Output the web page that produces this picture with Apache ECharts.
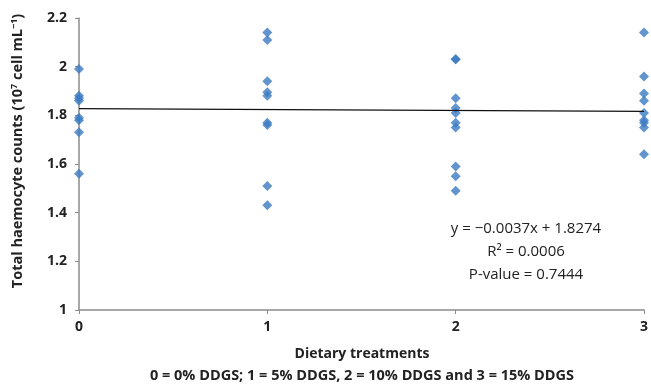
<!DOCTYPE html>
<html><head><meta charset="utf-8">
<script src="https://cdn.jsdelivr.net/npm/echarts@6/dist/echarts.min.js"></script>
<style>html,body{margin:0;padding:0;background:#fff}#c{width:651px;height:389px}</style>
</head><body><div id="c"></div>
<script>
const treatments = [0, 1, 2, 3];
const group0 = [1.99, 1.88, 1.87, 1.86, 1.79, 1.78, 1.73, 1.56];
const group1 = [2.14, 2.11, 1.94, 1.895, 1.88, 1.77, 1.76, 1.51, 1.43];
const group2 = [2.03, 2.03, 1.87, 1.83, 1.81, 1.77, 1.75, 1.59, 1.55, 1.49];
const group3 = [2.14, 1.96, 1.89, 1.86, 1.81, 1.78, 1.77, 1.75, 1.64];
const slope = -0.0037, intercept = 1.8274;
const yTicks = [1, 1.2, 1.4, 1.6, 1.8, 2, 2.2];
const eqLines = ['y = \u22120.0037x + 1.8274', 'R\u00b2 = 0.0006', 'P-value = 0.7444'];

const groups = [group0, group1, group2, group3];
const points = [];
groups.forEach((g, i) => g.forEach(v => points.push([treatments[i], v])));
const trend = [[0, intercept], [3, intercept + slope * 3]];
const font = 'Open Sans, Liberation Sans, sans-serif';

const chart = echarts.init(document.getElementById('c'));
chart.setOption({
  animation: false,
  grid: { left: 79, right: 4, top: 18, bottom: 79 },
  xAxis: {
    type: 'value', min: 0, max: 3, interval: 1,
    axisLine: { lineStyle: { color: '#8c8c8c', width: 1.5 } },
    axisTick: { show: true, length: 4, lineStyle: { color: '#8c8c8c' } },
    axisLabel: { color: '#222', fontWeight: 'bold', fontSize: 14, fontFamily: font, margin: 10 },
    splitLine: { show: false }
  },
  yAxis: {
    type: 'value', min: 1, max: 2.2, interval: 0.2,
    axisLine: { show: true, lineStyle: { color: '#8c8c8c', width: 1.5 } },
    axisTick: { show: true, length: 4, lineStyle: { color: '#8c8c8c' } },
    axisLabel: { color: '#222', fontWeight: 'bold', fontSize: 14, fontFamily: font, margin: 12,
      formatter: v => { const t = yTicks.find(x => Math.abs(x - v) < 1e-6); return t === undefined ? '' : String(t); } },
    splitLine: { show: false }
  },
  series: [
    { type: 'scatter', data: points, symbol: 'diamond', symbolSize: 10,
      itemStyle: { color: '#3b7bc2' } },
    { type: 'line', data: trend, symbol: 'none', lineStyle: { color: '#111', width: 1.2 } }
  ],
  graphic: [
    { type: 'text', x: 362, y: 354,
      style: { text: 'Dietary treatments', font: 'bold 14px ' + font, fill: '#222', align: 'center', verticalAlign: 'middle' } },
    { type: 'text', x: 362, y: 376,
      style: { text: '0 = 0% DDGS; 1 = 5% DDGS, 2 = 10% DDGS and 3 = 15% DDGS', font: 'bold 14.5px ' + font, fill: '#222', align: 'center', verticalAlign: 'middle' } },
    { type: 'text', x: 18, y: 151, rotation: Math.PI / 2,
      style: { text: '{a|Total haemocyte counts (10}{s|7}{a| cell mL}{s|\u22121}{a|)}', align: 'center', verticalAlign: 'middle',
        rich: { a: { font: 'bold 14.5px ' + font, fill: '#222' }, s: { font: 'bold 9px ' + font, fill: '#222', padding: [0, 0, 7, 0] } } } },
    { type: 'text', x: 526, y: 229, style: { text: eqLines[0], font: '15px ' + font, fill: '#222', align: 'center', verticalAlign: 'middle' } },
    { type: 'text', x: 526, y: 252, style: { text: eqLines[1], font: '15px ' + font, fill: '#222', align: 'center', verticalAlign: 'middle' } },
    { type: 'text', x: 526, y: 275, style: { text: eqLines[2], font: '15px ' + font, fill: '#222', align: 'center', verticalAlign: 'middle' } }
  ]
});
</script></body></html>
